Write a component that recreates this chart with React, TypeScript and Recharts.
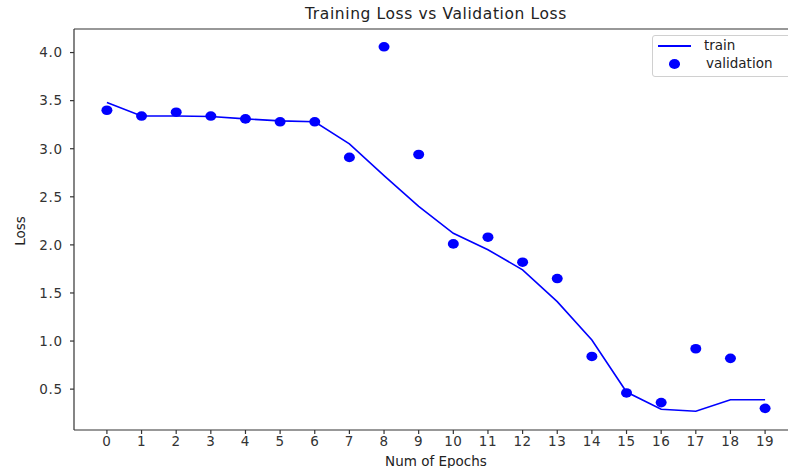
import {
  ComposedChart,
  Line,
  Scatter,
  XAxis,
  YAxis,
  ReferenceLine,
} from "recharts";

const epochs = [0, 1, 2, 3, 4, 5, 6, 7, 8, 9, 10, 11, 12, 13, 14, 15, 16, 17, 18, 19];
const trainLoss = [
  3.48, 3.34, 3.34, 3.335, 3.31, 3.29, 3.28, 3.05, 2.72, 2.4, 2.12, 1.95, 1.74,
  1.41, 1.01, 0.47, 0.29, 0.27, 0.39, 0.39,
];
const valLoss = [
  3.4, 3.34, 3.38, 3.34, 3.31, 3.28, 3.28, 2.91, 4.06, 2.94, 2.01, 2.08, 1.82,
  1.65, 0.84, 0.46, 0.36, 0.92, 0.82, 0.3,
];
const yTicks = [0.5, 1.0, 1.5, 2.0, 2.5, 3.0, 3.5, 4.0];

const X_DOMAIN: [number, number] = [-0.95, 19.95];
const Y_DOMAIN: [number, number] = [0.075, 4.245];
const BLUE = "#0000ff";
const AXIS = "#333333";
const FONT = "DejaVu Sans, sans-serif";

const rows = epochs.map((e, i) => ({ epoch: e, train: trainLoss[i], val: valLoss[i] }));

function Dot(props: any) {
  const { cx, cy } = props;
  if (cx == null || cy == null) return null;
  return <ellipse cx={cx} cy={cy} rx={5.5} ry={4.8} fill={BLUE} />;
}

function LegendBox() {
  return (
    <div
      style={{
        position: "absolute",
        left: 652,
        top: 35,
        width: 150,
        height: 40,
        border: "1px solid #d0d0d0",
        borderRadius: 3,
        background: "#fff",
        fontFamily: FONT,
        fontSize: 13.5,
        color: "#222",
      }}
    >
      <div style={{ position: "absolute", left: 5, top: 9, width: 33, height: 1.5, background: BLUE }} />
      <div style={{ position: "absolute", left: 51, top: 1 }}>train</div>
      <div
        style={{
          position: "absolute",
          left: 16,
          top: 23,
          width: 11,
          height: 9.6,
          borderRadius: "50%",
          background: BLUE,
        }}
      />
      <div style={{ position: "absolute", left: 53, top: 19 }}>validation</div>
    </div>
  );
}

export default function App() {
  return (
    <div
      style={{
        position: "absolute",
        left: 0,
        top: 0,
        width: 788,
        height: 468,
        overflow: "hidden",
        background: "#fff",
      }}
    >
      <div
        style={{
          position: "absolute",
          left: 74,
          width: 724,
          top: 5,
          textAlign: "center",
          fontFamily: FONT,
          fontSize: 15.5,
          letterSpacing: 0.6,
          color: "#222",
        }}
      >
        Training Loss vs Validation Loss
      </div>
      <div
        style={{
          position: "absolute",
          left: 20,
          top: 231,
          transform: "translate(-50%, -50%) rotate(-90deg)",
          fontFamily: FONT,
          fontSize: 13.5,
          color: "#222",
          whiteSpace: "nowrap",
        }}
      >
        Loss
      </div>
      <ComposedChart
        width={800}
        height={468}
        data={rows}
        margin={{ top: 29, right: 2, bottom: 0, left: 0 }}
      >
        <XAxis
          dataKey="epoch"
          type="number"
          domain={X_DOMAIN}
          ticks={epochs}
          interval={0}
          allowDataOverflow
          height={38}
          stroke={AXIS}
          strokeWidth={1.2}
          tickSize={4}
          tickMargin={2}
          tick={{ fontSize: 13.5, fill: AXIS, fontFamily: FONT, letterSpacing: 0.6 }}
          label={{
            value: "Num of Epochs",
            position: "insideBottom",
            offset: 2,
            fontSize: 13.5,
            fill: "#222",
            fontFamily: FONT,
          }}
        />
        <YAxis
          type="number"
          domain={Y_DOMAIN}
          ticks={yTicks}
          allowDataOverflow
          width={74}
          stroke={AXIS}
          strokeWidth={1.2}
          tickSize={4}
          tickMargin={7}
          tickFormatter={(v: number) => v.toFixed(1)}
          tick={{ fontSize: 13.5, fill: AXIS, fontFamily: FONT, letterSpacing: 0.8 }}
        />
        <ReferenceLine y={Y_DOMAIN[1]} stroke={AXIS} strokeWidth={1.2} ifOverflow="visible" />
        <Line
          dataKey="train"
          name="train"
          type="linear"
          stroke={BLUE}
          strokeWidth={1.6}
          dot={false}
          activeDot={false}
          isAnimationActive={false}
        />
        <Scatter
          dataKey="val"
          name="validation"
          fill={BLUE}
          shape={<Dot />}
          isAnimationActive={false}
        />
      </ComposedChart>
      <LegendBox />
    </div>
  );
}
